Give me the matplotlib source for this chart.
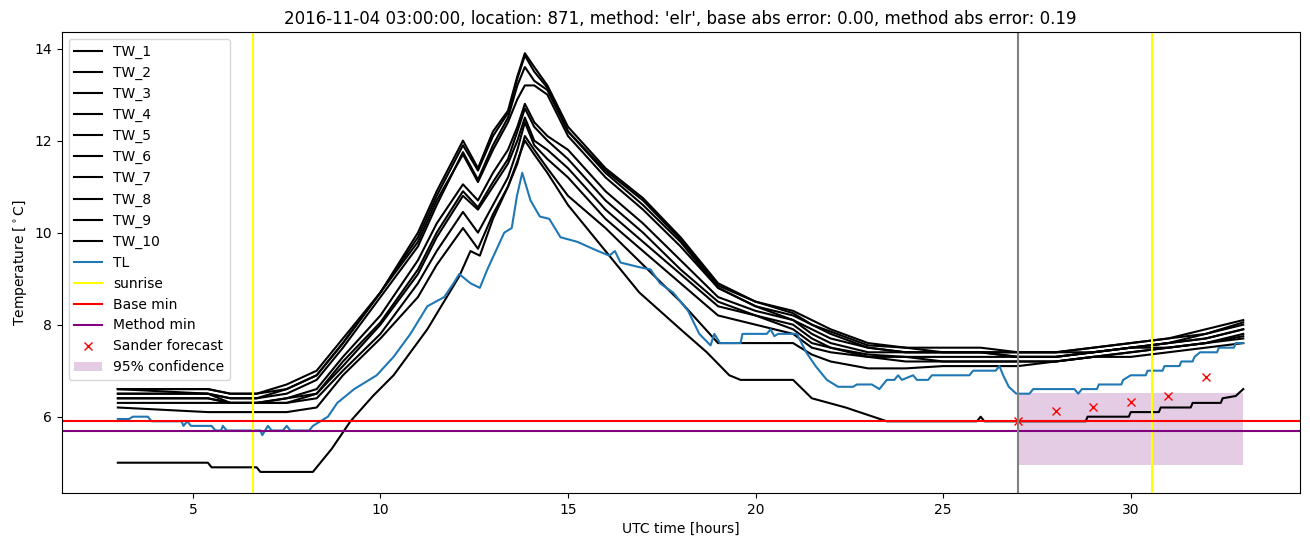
import matplotlib

matplotlib.use("Agg")

import matplotlib.pyplot as plt  # noqa: E402

# common time grid (UTC hours) for the TW sensor curves 1-9
tw_hours = [3.0, 5.4, 6.0, 6.7, 7.5, 8.3, 9.0, 10.0, 11.0, 11.5, 12.2, 12.6, 13.0,
            13.4, 13.65, 13.85, 14.1, 14.45, 15.0, 16.0, 17.0, 18.0, 19.0, 20.0,
            21.0, 21.5, 22.0, 23.0, 24.0, 25.0, 26.0, 27.0, 28.0, 29.0, 30.0, 31.0,
            32.0, 33.0]

tw_1 = [6.6, 6.6, 6.5, 6.5, 6.7, 7.0, 7.7, 8.7, 10.0, 10.9, 12.0, 11.4, 12.2, 12.65,
        13.4, 13.9, 13.6, 13.2, 12.3, 11.4, 10.75, 9.9, 8.9, 8.5, 8.3, 8.1, 7.9, 7.6,
        7.5, 7.5, 7.5, 7.4, 7.4, 7.5, 7.6, 7.7, 7.9, 8.1]
tw_2 = [6.6, 6.6, 6.5, 6.5, 6.6, 6.9, 7.6, 8.7, 9.9, 10.8, 11.9, 11.35, 12.1, 12.6,
        13.35, 13.85, 13.5, 13.15, 12.2, 11.35, 10.7, 9.85, 8.85, 8.5, 8.25, 8.0,
        7.85, 7.55, 7.5, 7.4, 7.4, 7.4, 7.4, 7.5, 7.6, 7.7, 7.8, 8.05]
tw_3 = [6.5, 6.5, 6.4, 6.4, 6.5, 6.8, 7.5, 8.6, 9.7, 10.6, 11.75, 11.15, 11.9, 12.5,
        13.2, 13.6, 13.3, 13.1, 12.2, 11.3, 10.6, 9.8, 8.8, 8.4, 8.2, 8.0, 7.8, 7.5,
        7.4, 7.4, 7.4, 7.4, 7.4, 7.4, 7.5, 7.6, 7.8, 8.0]
tw_4 = [6.6, 6.5, 6.4, 6.4, 6.6, 6.9, 7.6, 8.7, 9.8, 10.7, 11.7, 11.1, 11.8, 12.4,
        12.9, 13.2, 13.2, 13.0, 12.1, 11.2, 10.5, 9.7, 8.8, 8.4, 8.1, 7.9, 7.7, 7.5,
        7.4, 7.4, 7.4, 7.3, 7.3, 7.4, 7.5, 7.6, 7.7, 7.9]
tw_5 = [6.5, 6.5, 6.3, 6.3, 6.4, 6.6, 7.3, 8.2, 9.4, 10.2, 11.05, 10.7, 11.3, 11.8,
        12.3, 12.8, 12.4, 12.1, 11.8, 10.9, 10.2, 9.4, 8.6, 8.3, 8.1, 7.8, 7.6, 7.4,
        7.4, 7.4, 7.4, 7.3, 7.3, 7.4, 7.5, 7.6, 7.7, 7.9]
tw_6 = [6.4, 6.4, 6.3, 6.3, 6.4, 6.5, 7.2, 8.05, 9.2, 10.0, 10.9, 10.55, 11.1, 11.6,
        12.2, 12.7, 12.3, 12.0, 11.6, 10.7, 10.0, 9.2, 8.5, 8.2, 8.0, 7.7, 7.5, 7.35,
        7.3, 7.3, 7.3, 7.3, 7.3, 7.4, 7.5, 7.5, 7.6, 7.8]
tw_7 = [6.4, 6.4, 6.3, 6.3, 6.3, 6.5, 7.1, 8.0, 9.1, 9.9, 10.8, 10.5, 11.0, 11.5,
        12.0, 12.5, 12.0, 11.8, 11.4, 10.5, 9.8, 9.1, 8.4, 8.2, 7.9, 7.6, 7.5, 7.3,
        7.3, 7.2, 7.2, 7.2, 7.2, 7.3, 7.4, 7.5, 7.6, 7.75]
tw_8 = [6.3, 6.3, 6.3, 6.3, 6.3, 6.4, 7.0, 7.8, 8.9, 9.6, 10.45, 10.0, 10.6, 11.2,
        11.8, 12.4, 11.9, 11.6, 11.2, 10.3, 9.6, 8.9, 8.2, 8.0, 7.8, 7.5, 7.4, 7.3,
        7.2, 7.2, 7.2, 7.2, 7.2, 7.3, 7.3, 7.4, 7.5, 7.6]
tw_9 = [6.2, 6.1, 6.1, 6.1, 6.1, 6.2, 6.9, 7.7, 8.6, 9.3, 10.1, 9.65, 10.4, 11.0,
        11.5, 12.1, 11.8, 11.4, 10.8, 10.1, 9.3, 8.5, 7.6, 7.6, 7.6, 7.35, 7.2, 7.05,
        7.05, 7.1, 7.1, 7.1, 7.2, 7.3, 7.4, 7.5, 7.6, 7.7]

# TW_10 has its own time points (lowest sensor)
tw_10_hours = [3.0, 5.4, 5.5, 6.7, 6.8, 8.2, 8.7, 9.2, 9.8, 10.35, 11.25, 12.1, 12.4,
               12.65, 13.0, 13.4, 13.85, 14.1, 14.45, 15.0, 16.0, 16.9, 18.0, 18.7,
               19.3, 19.6, 21.0, 21.5, 22.4, 23.5, 25.9, 26.0, 26.1, 26.2, 28.8,
               28.85, 29.95, 30.0, 30.75, 30.8, 31.6, 31.65, 32.4, 32.45, 32.8, 33.0]
tw_10 = [5.0, 5.0, 4.9, 4.9, 4.8, 4.8, 5.3, 5.9, 6.45, 6.9, 7.9, 9.05, 9.6, 9.5,
         10.3, 11.0, 12.0, 11.7, 11.3, 10.6, 9.6, 8.7, 7.9, 7.4, 6.9, 6.8, 6.8, 6.4,
         6.2, 5.9, 5.9, 6.0, 5.9, 5.9, 5.9, 6.0, 6.0, 6.1, 6.1, 6.2, 6.2, 6.3, 6.3,
         6.4, 6.45, 6.6]

tw_series = [tw_1, tw_2, tw_3, tw_4, tw_5, tw_6, tw_7, tw_8, tw_9]

# TL air temperature
tl_hours = [3.0, 3.3, 3.4, 3.8, 3.9, 4.7, 4.75, 4.85, 4.95, 5.5, 5.6, 5.75, 5.8, 5.9,
            6.8, 6.85, 7.0, 7.1, 7.4, 7.5, 7.6, 8.1, 8.2, 8.4, 8.6, 8.85, 9.3, 9.9,
            10.35, 10.8, 11.25, 11.7, 11.95, 12.1, 12.4, 12.65, 12.85, 13.3, 13.5,
            13.64, 13.78, 14.0, 14.25, 14.5, 14.8, 15.25, 15.8, 16.1, 16.25, 16.4,
            16.9, 17.2, 17.45, 17.8, 18.2, 18.5, 18.8, 18.9, 19.05, 19.6, 19.65, 20.3,
            20.4, 20.5, 20.6, 21.1, 21.35, 21.6, 21.9, 22.2, 22.6, 22.7, 23.1, 23.3,
            23.5, 23.7, 23.8, 23.9, 24.2, 24.3, 24.6, 24.7, 25.0, 25.7, 25.8, 26.4,
            26.5, 26.6, 26.75, 26.95, 27.3, 27.4, 28.5, 28.6, 28.7, 29.1, 29.15, 29.75,
            29.8, 30.0, 30.4, 30.45, 30.85, 30.9, 31.3, 31.35, 31.65, 31.7, 31.85, 32.3,
            32.35, 32.75, 32.8, 33.0]
tl_temp = [5.95, 5.95, 6.0, 6.0, 5.9, 5.9, 5.8, 5.9, 5.8, 5.8, 5.7, 5.7, 5.8, 5.7,
           5.7, 5.6, 5.8, 5.7, 5.7, 5.8, 5.7, 5.7, 5.8, 5.9, 6.0, 6.3, 6.6, 6.9,
           7.3, 7.8, 8.4, 8.6, 8.9, 9.1, 8.9, 8.8, 9.2, 10.0, 10.1,
           10.8, 11.3, 10.7, 10.35, 10.3, 9.9, 9.8, 9.6, 9.5, 9.6, 9.35,
           9.25, 9.2, 8.9, 8.7, 8.3, 7.8, 7.55, 7.8, 7.6, 7.6, 7.8, 7.8,
           7.9, 7.75, 7.8, 7.8, 7.4, 7.1, 6.8, 6.65, 6.65, 6.7, 6.7, 6.6,
           6.8, 6.8, 6.9, 6.8, 6.9, 6.8, 6.8, 6.9, 6.9, 6.9, 7.0, 7.0,
           7.1, 6.9, 6.65, 6.5, 6.5, 6.6, 6.6, 6.5, 6.6, 6.6, 6.7, 6.7,
           6.8, 6.9, 6.9, 7.0, 7.0, 7.1, 7.1, 7.2, 7.2, 7.3, 7.4, 7.4,
           7.5, 7.5, 7.6, 7.6]

sunrise_hours = [6.6, 30.58]
forecast_start = 27.0
base_min = 5.9
method_min = 5.7

sander_hours = [27, 28, 29, 30, 31, 32]
sander_temp = [5.91, 6.13, 6.2, 6.32, 6.46, 6.86]
conf_hours = [27.0, 33.0]
conf_low = 4.95
conf_high = 6.52

title = ("2016-11-04 03:00:00, location: 871, method: 'elr', "
         "base abs error: 0.00, method abs error: 0.19")

figure, axes = plt.subplots(figsize=(13.1, 5.47), dpi=100)
for i, series in enumerate(tw_series, start=1):
    axes.plot(tw_hours, series, color="black", label=f"TW_{i}")
axes.plot(tw_10_hours, tw_10, color="black", label="TW_10")
axes.plot(tl_hours, tl_temp, color="C0", label="TL")
for i, hour in enumerate(sunrise_hours):
    axes.axvline(hour, color="yellow", label="sunrise" if i == 0 else None)
axes.axhline(base_min, color="red", label="Base min")
axes.axhline(method_min, color="purple", label="Method min")
axes.plot(sander_hours, sander_temp, "x", color="red", linestyle="none",
          label="Sander forecast")
axes.fill_between(conf_hours, conf_low, conf_high, color="purple", alpha=0.2,
                  linewidth=0, label="95% confidence")
axes.axvline(forecast_start, color="grey")

axes.set_title(title)
axes.set_xlabel("UTC time [hours]")
axes.set_ylabel(r"Temperature [$^\circ$C]")
axes.legend(loc="upper left")
figure.subplots_adjust(left=0.047, right=0.992, top=0.941, bottom=0.099)
figure.savefig("out.png", dpi=100)
plt.close(figure)
